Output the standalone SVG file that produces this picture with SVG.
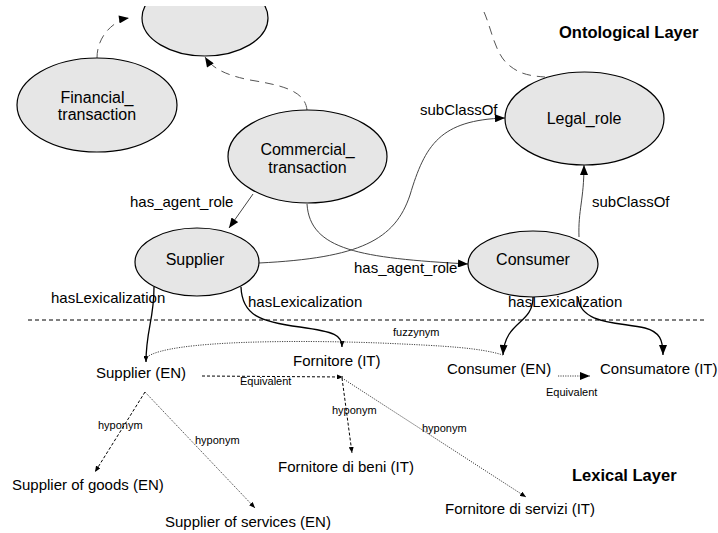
<svg xmlns="http://www.w3.org/2000/svg" width="718" height="533" viewBox="0 0 718 533">
<style>
text{font-family:"Liberation Sans",Arial,sans-serif;fill:#000}
.node{fill:#e6e6e6;stroke:#000;stroke-width:1.2}
.nt{font-size:16px;text-anchor:middle}
.lbl{font-size:15px}
.lex{font-size:15px}
.sm{font-size:11px}
.layer{font-size:16.5px;font-weight:bold}
.c{fill:none;stroke:#444;stroke-width:1}
.cd{fill:none;stroke:#555;stroke-width:1;stroke-dasharray:9,6}
.lx{fill:none;stroke:#000;stroke-width:1.3}
.ld{fill:none;stroke:#000;stroke-width:1;stroke-dasharray:3,2}
.lt{fill:none;stroke:#444;stroke-width:1;stroke-dasharray:1.2,1.2}
.sep{fill:none;stroke:#000;stroke-width:1;stroke-dasharray:4,3}
</style>
<defs>
<marker id="arr" viewBox="0 0 10 8" refX="10" refY="4" markerWidth="11" markerHeight="8" markerUnits="userSpaceOnUse" orient="auto"><path d="M0,0 L10,4 L0,8 z" fill="#000"/></marker>
<marker id="arrS" viewBox="0 0 6 5" refX="6" refY="2.5" markerWidth="6" markerHeight="5" markerUnits="userSpaceOnUse" orient="auto"><path d="M0,0 L6,2.5 L0,5 z" fill="#000"/></marker>
<clipPath id="topclip"><rect x="0" y="6" width="718" height="527"/></clipPath>
</defs>

<g id="connectors">
<path class="cd" d="M97,58 C97,35 115,20 129,18" marker-end="url(#arr)"/>
<path class="cd" d="M307,110 C305,90 280,85 250,80 C225,75 212,68 205,57" marker-end="url(#arr)"/>
<path class="cd" d="M484,12 C492,30 495,55 510,66 C520,74 530,76 545,77"/>
<path class="c" d="M253,194 L229,228" marker-end="url(#arr)"/>
<path class="c" d="M307,204 C310,250 360,258 468,264" marker-end="url(#arr)"/>
<path class="c" d="M259,263 C360,258 395,240 410,195 C425,145 440,120 505,118" marker-end="url(#arr)"/>
<path class="c" d="M579,237 C578,210 584,200 584,165" marker-end="url(#arr)"/>
<path class="sep" d="M28,320 L707,320"/>
<path class="lx" d="M154,287 C154,320 146,330 146,362" marker-end="url(#arrS)"/>
<path class="lx" d="M241,287 C242,315 260,322 300,327 C335,332 342,335 342,347" marker-end="url(#arrS)"/>
<path class="lx" d="M533,297 C533,325 505,320 503,355" marker-end="url(#arr)"/>
<path class="lx" d="M578,297 C580,325 620,322 645,328 C660,332 663,340 663,355" marker-end="url(#arr)"/>
<path class="lt" d="M147,357 C170,340 300,340 380,343 C450,346 480,348 503,355"/>
<path class="ld" d="M202,376 L343,377" marker-end="url(#arrS)"/>
<path class="lt" d="M558,376 L590,376" marker-end="url(#arr)"/>
<path class="ld" d="M145,392 L95,472" marker-end="url(#arrS)"/>
<path class="lt" d="M145,392 L255,508" marker-end="url(#arrS)"/>
<path class="ld" d="M342,378 L352,453" marker-end="url(#arrS)"/>
<path class="lt" d="M342,378 L526,497" marker-end="url(#arrS)"/>
</g>

<g id="top_class">
<ellipse class="node" cx="205" cy="18" rx="63" ry="38" clip-path="url(#topclip)"/>
</g>
<g id="financial_transaction">
<ellipse class="node" cx="97" cy="105" rx="80" ry="47"/>
<text class="nt" x="97" y="103">Financial_</text>
<text class="nt" x="97" y="120">transaction</text>
</g>
<g id="commercial_transaction">
<ellipse class="node" cx="307.5" cy="156.5" rx="79.5" ry="46.5"/>
<text class="nt" x="307.5" y="155">Commercial_</text>
<text class="nt" x="307.5" y="173">transaction</text>
</g>
<g id="legal_role">
<ellipse class="node" cx="584.5" cy="118.5" rx="79.5" ry="46.5"/>
<text class="nt" x="584" y="124">Legal_role</text>
</g>
<g id="supplier">
<ellipse class="node" cx="197" cy="262" rx="62" ry="34"/>
<text class="nt" x="195" y="265">Supplier</text>
</g>
<g id="consumer">
<ellipse class="node" cx="533" cy="264" rx="65" ry="33"/>
<text class="nt" x="533" y="265">Consumer</text>
</g>

<g id="labels">
<text class="lbl" x="420" y="115">subClassOf</text>
<text class="lbl" x="130" y="207">has_agent_role</text>
<text class="lbl" x="354" y="273">has_agent_role</text>
<text class="lbl" x="592" y="207">subClassOf</text>
<text class="lbl" x="51" y="303">hasLexicalization</text>
<text class="lbl" x="248" y="307">hasLexicalization</text>
<text class="lbl" x="508" y="307">hasLexicalization</text>
<text class="sm" x="393" y="336">fuzzynym</text>
<text class="sm" x="240" y="385">Equivalent</text>
<text class="sm" x="546" y="396">Equivalent</text>
<text class="sm" x="98" y="429">hyponym</text>
<text class="sm" x="195" y="444">hyponym</text>
<text class="sm" x="332" y="414">hyponym</text>
<text class="sm" x="422" y="432">hyponym</text>
</g>

<g id="layers">
<text class="layer" x="559" y="38">Ontological Layer</text>
<text class="layer" x="572" y="481">Lexical Layer</text>
</g>

<g id="supplier_en"><text class="lex" x="96" y="378">Supplier (EN)</text></g>
<g id="fornitore_it"><text class="lex" x="293" y="366">Fornitore (IT)</text></g>
<g id="consumer_en"><text class="lex" x="447" y="374">Consumer (EN)</text></g>
<g id="consumatore_it"><text class="lex" x="600" y="374">Consumatore (IT)</text></g>
<g id="supplier_goods"><text class="lex" x="12" y="490">Supplier of goods (EN)</text></g>
<g id="supplier_services"><text class="lex" x="165" y="527">Supplier of services (EN)</text></g>
<g id="fornitore_beni"><text class="lex" x="278" y="472">Fornitore di beni (IT)</text></g>
<g id="fornitore_servizi"><text class="lex" x="445" y="514">Fornitore di servizi (IT)</text></g>
</svg>
